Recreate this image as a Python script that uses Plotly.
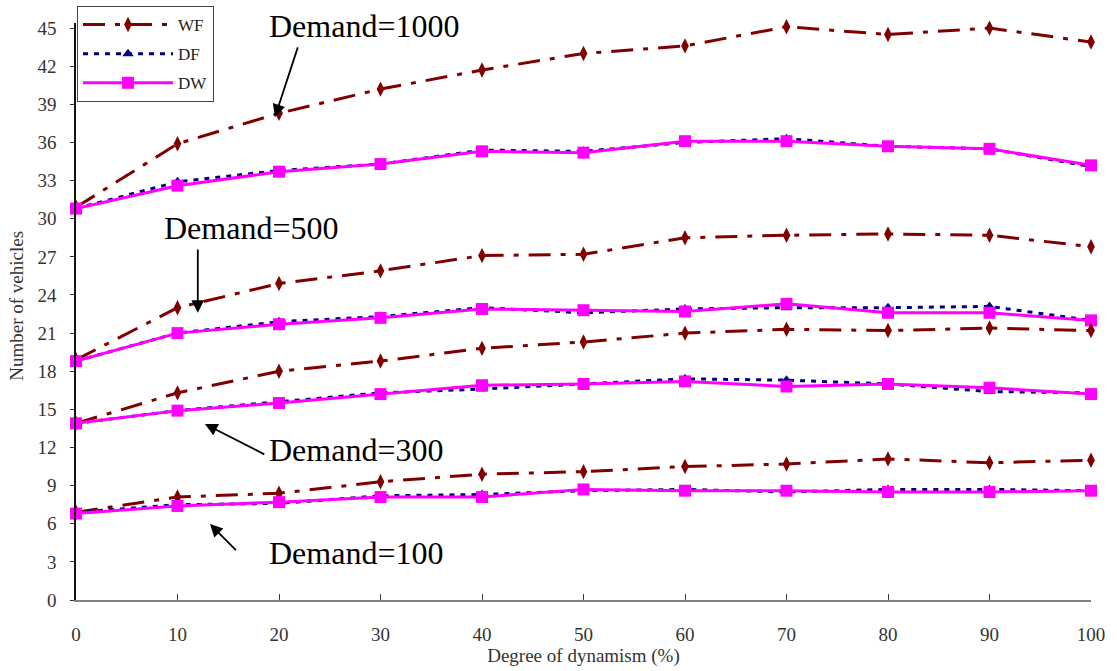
import plotly.graph_objects as go

# Degree of dynamism (%) on the x axis
dynamism = [0, 10, 20, 30, 40, 50, 60, 70, 80, 90, 100]

# Number of vehicles per method, one list per demand level
wf_1000 = [30.9, 35.9, 38.3, 40.2, 41.7, 43.0, 43.6, 45.1, 44.5, 45.0, 43.9]
df_1000 = [30.8, 32.9, 33.8, 34.3, 35.4, 35.3, 36.0, 36.3, 35.7, 35.5, 34.1]
dw_1000 = [30.8, 32.6, 33.7, 34.3, 35.3, 35.2, 36.1, 36.1, 35.7, 35.5, 34.2]

wf_500 = [18.9, 23.0, 24.9, 25.9, 27.1, 27.2, 28.5, 28.7, 28.8, 28.7, 27.8]
df_500 = [18.8, 21.0, 21.9, 22.3, 23.0, 22.6, 22.9, 23.0, 23.0, 23.1, 22.0]
dw_500 = [18.8, 21.0, 21.7, 22.2, 22.9, 22.8, 22.7, 23.3, 22.6, 22.6, 22.0]

wf_300 = [13.9, 16.3, 18.0, 18.8, 19.8, 20.3, 21.0, 21.3, 21.2, 21.4, 21.2]
df_300 = [13.9, 14.9, 15.6, 16.3, 16.6, 17.0, 17.4, 17.3, 17.0, 16.4, 16.3]
dw_300 = [13.9, 14.9, 15.5, 16.2, 16.9, 17.0, 17.2, 16.8, 17.0, 16.7, 16.2]

wf_100 = [6.9, 8.1, 8.4, 9.3, 9.9, 10.1, 10.5, 10.7, 11.1, 10.8, 11.0]
df_100 = [6.9, 7.5, 7.6, 8.2, 8.3, 8.6, 8.7, 8.5, 8.7, 8.7, 8.6]
dw_100 = [6.8, 7.4, 7.7, 8.1, 8.1, 8.7, 8.6, 8.6, 8.5, 8.5, 8.6]

y_ticks = list(range(0, 46, 3))
x_ticks = dynamism

# Demand labels: (text, text x, text y, arrow tail x, tail y, arrow head x, head y)
demand_labels = [
    ("Demand=1000", 28.4, 45.2, 21.9, 43.6, 19.6, 38.0),
    ("Demand=500", 17.2, 29.3, 12.0, 27.7, 12.0, 22.6),
    ("Demand=300", 27.6, 11.8, 18.7, 11.4, 12.7, 13.85),
    ("Demand=100", 27.6, 3.7, 15.9, 3.8, 13.2, 5.98),
]

SERIF = "Liberation Serif, Times New Roman, serif"
WF_COLOR = "#800000"
DF_COLOR = "#000080"
DW_COLOR = "#FF00FF"

fig = go.Figure()

groups = [
    (wf_1000, df_1000, dw_1000),
    (wf_500, df_500, dw_500),
    (wf_300, df_300, dw_300),
    (wf_100, df_100, dw_100),
]

for i, (wf, df, dw) in enumerate(groups):
    first = i == 0
    fig.add_trace(go.Scatter(
        x=dynamism, y=wf, name="WF", legendgroup="WF", showlegend=first,
        mode="lines+markers", cliponaxis=False,
        line=dict(color=WF_COLOR, width=3, dash="22px,10px,5px,10px"),
        marker=dict(symbol="diamond-tall", size=11, color=WF_COLOR),
    ))
    fig.add_trace(go.Scatter(
        x=dynamism, y=df, name="DF", legendgroup="DF", showlegend=first,
        mode="lines+markers", cliponaxis=False,
        line=dict(color=DF_COLOR, width=3, dash="5px,6px"),
        marker=dict(symbol="triangle-up", size=10, color=DF_COLOR),
    ))
    fig.add_trace(go.Scatter(
        x=dynamism, y=dw, name="DW", legendgroup="DW", showlegend=first,
        mode="lines+markers", cliponaxis=False,
        line=dict(color=DW_COLOR, width=3),
        marker=dict(symbol="square", size=12, color=DW_COLOR),
    ))

for text, tx, ty, ax, ay, hx, hy in demand_labels:
    fig.add_annotation(
        x=tx, y=ty, xref="x", yref="y", text=text, showarrow=False,
        font=dict(family=SERIF, size=32, color="black"),
        xanchor="center", yanchor="middle",
    )
    fig.add_annotation(
        x=hx, y=hy, xref="x", yref="y", ax=ax, ay=ay, axref="x", ayref="y",
        text="", showarrow=True, arrowhead=2, arrowsize=1.4,
        arrowwidth=1.8, arrowcolor="black", standoff=0,
    )

# Vertical axis title, set beside the tick labels
fig.add_annotation(
    x=0, y=0.51, xref="paper", yref="paper", xshift=-59,
    text="Number of vehicles", textangle=-90, showarrow=False,
    xanchor="center", yanchor="middle",
    font=dict(family=SERIF, size=19, color="#333333"),
)

fig.update_layout(
    width=1117, height=671,
    margin=dict(l=76, r=26, t=23, b=71, autoexpand=False),
    paper_bgcolor="white", plot_bgcolor="white",
    font=dict(family=SERIF, color="#333333"),
    showlegend=True,
    legend=dict(
        x=77 / 1117, y=1 - 6 / 671, xref="container", yref="container",
        xanchor="left", yanchor="top",
        bgcolor="white", bordercolor="#444444", borderwidth=1,
        font=dict(family=SERIF, size=17, color="#222222"),
        tracegroupgap=4, itemwidth=90,
    ),
)

fig.update_xaxes(
    range=[0, 100], tickvals=x_ticks, ticktext=[str(v) for v in x_ticks],
    showgrid=False, zeroline=False,
    showline=True, linecolor="#808080", linewidth=2,
    ticks="inside", ticklen=6, tickcolor="#404040", tickwidth=1,
    tickfont=dict(family=SERIF, size=19, color="#333333"),
    ticklabelstandoff=16,
    title=dict(text="Degree of dynamism (%)", standoff=4,
               font=dict(family=SERIF, size=19, color="#333333")),
)

fig.update_yaxes(
    range=[0, 45.4], tickvals=y_ticks, ticktext=[str(v) for v in y_ticks],
    showgrid=False, zeroline=False,
    showline=True, linecolor="#111111", linewidth=1.5,
    ticks="outside", ticklen=4, tickcolor="#333333", tickwidth=1,
    tickfont=dict(family=SERIF, size=19, color="#333333"),
    ticklabelstandoff=10,
)

fig.write_html("out.html")
